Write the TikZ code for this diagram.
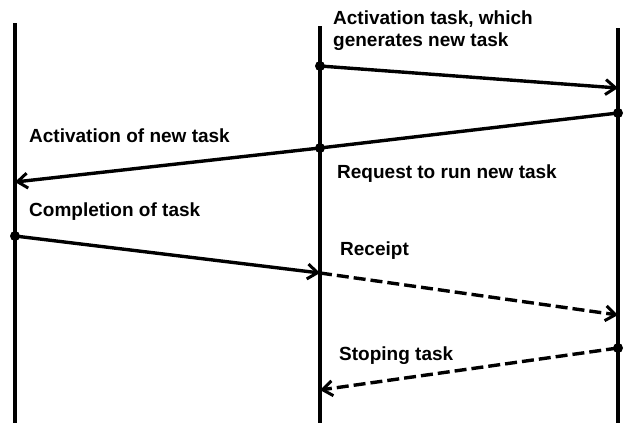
\documentclass[tikz,border=0pt]{standalone}
\usepackage{fontspec}
\setmainfont{Liberation Sans}
\usetikzlibrary{arrows.meta}

\begin{document}
\begin{tikzpicture}[x=1pt,y=-1pt,
  life/.style={line width=3.2pt},
  msg/.style={line width=3.4pt,-{Straight Barb[length=10pt,width=15pt,line width=3pt]}},
  sig/.style={msg,dash pattern=on 12pt off 5pt},
  dot/.style={circle,fill,inner sep=0pt,minimum size=10pt},
  lbl/.style={anchor=base west,font=\fontsize{19}{23}\selectfont\bfseries,inner sep=0pt}]
  \useasboundingbox (0,0) rectangle (629,423);
  % lifelines
  \coordinate (lt) at (15,23);  \coordinate (lb) at (15,423);
  \coordinate (mt) at (320,26); \coordinate (mb) at (320,423);
  \coordinate (rt) at (618,28); \coordinate (rb) at (618,423);
  \draw[life] (lt)--(lb);
  \draw[life] (mt)--(mb);
  \draw[life] (rt)--(rb);
  % message ends
  \node[dot] (m1) at (320,66) {};
  \coordinate (r1) at (618,88);
  \node[dot] (r2) at (618,113) {};
  \node[dot] (m2) at (320,148) {};
  \coordinate (l2) at (15,182);
  \node[dot] (l3) at (15,236) {};
  \coordinate (m3) at (320,273);
  \coordinate (r4) at (618,315);
  \node[dot] (r5) at (618,348) {};
  \coordinate (m5) at (320,390);
  \draw[msg] (m1.center)--(r1);
  \draw[line width=3.4pt] (r2.center)--(m2.center);
  \draw[msg] (m2.center)--(l2);
  \draw[msg] (l3.center)--(m3);
  \draw[sig] (m3)--(r4);
  \draw[sig] (r5.center)--(m5);
  % labels
  \node[lbl] (t1) at (333,24) {Activation task, which};
  \node[lbl] (t2) at (333,46) {generates new task};
  \node[lbl] (t3) at (29,142) {Activation of new task};
  \node[lbl] (t4) at (337,178) {Request to run new task};
  \node[lbl] (t5) at (29,216) {Completion of task};
  \node[lbl] (t6) at (340,255) {Receipt};
  \node[lbl] (t7) at (339,360) {Stoping task};
\end{tikzpicture}
\end{document}
